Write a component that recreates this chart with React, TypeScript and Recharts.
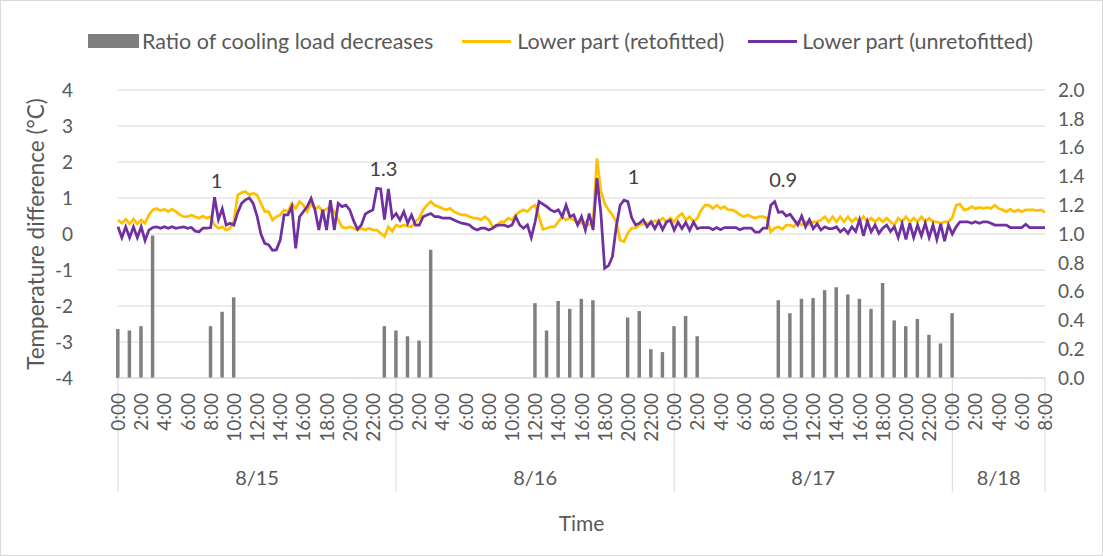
import React from "react";
import {
  ComposedChart,
  Bar,
  Line,
  XAxis,
  YAxis,
  CartesianGrid,
  Legend,
  ReferenceDot,
} from "recharts";

// temperature difference (°C), one value every 20 min, per day
const retro15 = [
  0.39, 0.3, 0.41, 0.28, 0.41, 0.28, 0.39, 0.3, 0.53, 0.67, 0.71, 0.65,
  0.69, 0.62, 0.69, 0.62, 0.53, 0.48, 0.48, 0.53, 0.48, 0.44, 0.5, 0.44,
  0.48, 0.25, 0.16, 0.2, 0.11, 0.16, 0.35, 1.08, 1.15, 1.18, 1.08, 1.13,
  1.08, 0.85, 0.62, 0.62, 0.39, 0.48, 0.53, 0.67, 0.62, 0.85, 0.71, 0.9,
  0.8, 0.62, 0.85, 0.7, 0.76, 0.62, 0.7, 0.76, 0.62, 0.4, 0.2, 0.16,
  0.2, 0.16, 0.11, 0.16, 0.11, 0.16, 0.11, 0.11, 0.02, -0.07, 0.2, 0.08,
];
const retro16 = [
  0.25, 0.2, 0.25, 0.22, 0.2, 0.34, 0.44, 0.67, 0.8, 0.9, 0.8, 0.76,
  0.71, 0.67, 0.71, 0.62, 0.57, 0.53, 0.53, 0.48, 0.44, 0.44, 0.39, 0.48,
  0.39, 0.2, 0.2, 0.34, 0.34, 0.44, 0.39, 0.53, 0.62, 0.67, 0.62, 0.74,
  0.8, 0.48, 0.13, 0.16, 0.2, 0.2, 0.34, 0.48, 0.39, 0.44, 0.39, 0.3,
  0.3, 0.34, 0.25, 0.3, 2.1, 1.2, 0.85, 0.67, 0.53, 0.34, -0.17, -0.21,
  0.02, 0.16, 0.16, 0.25, 0.28, 0.3, 0.31, 0.37, 0.34, 0.44, 0.34, 0.44,
];
const retro17 = [
  0.34, 0.48, 0.57, 0.39, 0.48, 0.34, 0.44, 0.67, 0.8, 0.8, 0.71, 0.8,
  0.71, 0.76, 0.67, 0.67, 0.62, 0.53, 0.48, 0.53, 0.48, 0.44, 0.48, 0.48,
  0.44, 0.06, 0.16, 0.2, 0.13, 0.25, 0.25, 0.2, 0.34, 0.25, 0.34, 0.25,
  0.34, 0.34, 0.39, 0.48, 0.34, 0.48, 0.34, 0.48, 0.34, 0.48, 0.34, 0.44,
  0.34, 0.48, 0.34, 0.44, 0.34, 0.44, 0.34, 0.44, 0.34, 0.25, 0.44, 0.34,
  0.48, 0.34, 0.44, 0.34, 0.48, 0.34, 0.44, 0.34, 0.34, 0.3, 0.34, 0.34,
];
const retro18 = [
  0.45, 0.8, 0.83, 0.67, 0.69, 0.76, 0.71, 0.74, 0.71, 0.74, 0.71, 0.8,
  0.71, 0.67, 0.62, 0.69, 0.62, 0.67, 0.62, 0.67, 0.67, 0.67, 0.65, 0.67,
  0.6,
];

const unretro15 = [
  0.2, -0.1, 0.2, -0.1, 0.2, -0.1, 0.2, -0.18, 0.11, 0.18, 0.2, 0.16,
  0.2, 0.16, 0.2, 0.16, 0.18, 0.2, 0.16, 0.18, 0.08, 0.06, 0.16, 0.16,
  0.18, 1.02, 0.4, 0.7, 0.25, 0.3, 0.25, 0.6, 0.85, 0.95, 1.0, 0.85,
  0.5, 0.0, -0.26, -0.3, -0.45, -0.44, -0.17, 0.53, 0.53, 0.76, -0.4, 0.48,
  0.62, 0.76, 0.99, 0.67, 0.11, 0.67, 0.11, 0.94, 0.11, 0.85, 0.76, 0.8,
  0.67, 0.37, 0.13, 0.25, 0.55, 0.62, 0.67, 1.27, 1.25, 0.4, 1.25, 0.45,
];
const unretro16 = [
  0.57, 0.39, 0.62, 0.3, 0.53, 0.25, 0.25, 0.48, 0.53, 0.57, 0.48, 0.48,
  0.44, 0.44, 0.44, 0.39, 0.34, 0.3, 0.28, 0.25, 0.16, 0.11, 0.16, 0.16,
  0.11, 0.16, 0.25, 0.25, 0.25, 0.2, 0.25, 0.48, 0.25, 0.16, 0.25, -0.1,
  0.34, 0.9, 0.83, 0.76, 0.67, 0.62, 0.67, 0.48, 0.8, 0.48, 0.53, 0.25,
  0.48, 0.11, 0.57, 0.11, 1.55, 0.6, -0.95, -0.88, -0.63, 0.2, 0.8, 0.94,
  0.9, 0.45, 0.25, 0.3, 0.4, 0.2, 0.34, 0.15, 0.35, 0.12, 0.33, 0.38,
];
const unretro17 = [
  0.11, 0.33, 0.15, 0.32, 0.1, 0.33, 0.15, 0.18, 0.18, 0.18, 0.12, 0.18,
  0.12, 0.18, 0.18, 0.18, 0.18, 0.12, 0.16, 0.16, 0.16, 0.05, 0.05, 0.16,
  0.16, 0.8, 0.9, 0.6, 0.62, 0.5, 0.55, 0.4, 0.25, 0.5, 0.2, 0.4,
  0.15, 0.28, 0.11, 0.2, 0.15, 0.15, 0.2, 0.06, 0.15, 0.02, 0.2, 0.07,
  0.4, -0.05, 0.35, 0.06, 0.25, 0.02, 0.16, 0.25, 0.07, 0.2, -0.1, 0.28,
  -0.15, 0.3, -0.1, 0.25, -0.05, 0.3, -0.1, 0.25, -0.15, 0.28, -0.2, 0.25,
];
const unretro18 = [
  0.0, 0.2, 0.34, 0.34, 0.34, 0.3, 0.34, 0.3, 0.34, 0.34, 0.3, 0.25,
  0.25, 0.25, 0.25, 0.18, 0.18, 0.18, 0.18, 0.27, 0.18, 0.18, 0.18, 0.18,
  0.18,
];

// ratio of cooling load decreases, hourly
const ratio15 = [
  0.34, 0.33, 0.36, 0.99, null, null, null, null, 0.36, 0.46, 0.56, null,
  null, null, null, null, null, null, null, null, null, null, null, 0.36,
];
const ratio16 = [
  0.33, 0.29, 0.26, 0.89, null, null, null, null, null, null, null, null,
  0.52, 0.33, 0.535, 0.48, 0.55, 0.54, null, null, 0.42, 0.465, 0.2, 0.18,
];
const ratio17 = [
  0.36, 0.43, 0.29, null, null, null, null, null, null, 0.54, 0.45, 0.55,
  0.555, 0.61, 0.63, 0.58, 0.55, 0.48, 0.66, 0.4, 0.36, 0.41, 0.3, 0.24,
];
const ratio18 = [0.45, null, null, null, null, null, null, null, null];

const dayLabels = ["8/15", "8/16", "8/17", "8/18"];
const dayStarts = [0, 24, 48, 72];
const lastHour = 80;

const hourTicks = [
  0, 2, 4, 6, 8, 10, 12, 14, 16, 18, 20, 22, 24, 26, 28, 30, 32, 34, 36, 38,
  40, 42, 44, 46, 48, 50, 52, 54, 56, 58, 60, 62, 64, 66, 68, 70, 72, 74, 76,
  78, 80,
];
const leftTicks = [-4, -3, -2, -1, 0, 1, 2, 3, 4];
const rightTicks = [0, 0.2, 0.4, 0.6, 0.8, 1, 1.2, 1.4, 1.6, 1.8, 2];

const noteText = ["1", "1.3", "1", "0.9"];
const noteHour = [8.5, 22.9, 44.5, 57.4];
const noteValue = [1.47, 1.8, 1.58, 1.5];

const retro = [...retro15, ...retro16, ...retro17, ...retro18];
const unretro = [...unretro15, ...unretro16, ...unretro17, ...unretro18];
const ratio = [...ratio15, ...ratio16, ...ratio17, ...ratio18];

const data = retro.map((r, i) => ({
  t: i / 3,
  retro: r,
  unretro: unretro[i],
  ratio: i % 3 === 0 ? ratio[i / 3] : null,
}));

const TEXT = "#595959";
const GRID = "#D9D9D9";
const FONT = 19;

function HourTick(props: any) {
  const { x, y, payload } = props;
  const v = payload.value as number;
  const base = y - 8;
  const dayIdx = dayStarts.findIndex(
    (s) => (s + Math.min(s + 24, lastHour)) / 2 === v
  );
  const isEdge = dayStarts.includes(v) || v === lastHour;
  return (
    <g>
      {isEdge && (
        <line x1={x} x2={x} y1={base} y2={base + 114} stroke={GRID} strokeWidth={1} />
      )}
      <text
        x={x + 7}
        y={base + 15}
        transform={`rotate(-90 ${x + 7} ${base + 15})`}
        textAnchor="end"
        fill={TEXT}
        fontSize={FONT}
      >
        {`${v % 24}:00`}
      </text>
      {dayIdx >= 0 && (
        <text x={x} y={base + 107} textAnchor="middle" fill={TEXT} fontSize={20}>
          {dayLabels[dayIdx]}
        </text>
      )}
    </g>
  );
}

function LeftTitle(props: any) {
  const vb = props.viewBox;
  const cx = vb.x + 44;
  const cy = vb.y + vb.height / 2;
  return (
    <text
      x={cx}
      y={cy}
      transform={`rotate(-90 ${cx} ${cy})`}
      textAnchor="middle"
      fill={TEXT}
      fontSize={22.5}
    >
      Temperature difference (°C)
    </text>
  );
}

function TimeTitle(props: any) {
  const vb = props.viewBox;
  return (
    <text x={vb.x + vb.width / 2} y={vb.y + 153} textAnchor="middle" fill={TEXT} fontSize={21}>
      Time
    </text>
  );
}

function LegendBox() {
  const item = { display: "flex", alignItems: "center" } as const;
  return (
    <div
      style={{
        display: "flex",
        alignItems: "center",
        paddingLeft: 88,
        fontSize: 21.5,
        color: TEXT,
        fontFamily: "Lato, sans-serif",
        lineHeight: "24px",
      }}
    >
      <div style={item}>
        <span style={{ width: 51, height: 14, background: "#7F7F7F", marginRight: 3 }} />
        <span>Ratio of cooling load decreases</span>
      </div>
      <div style={{ ...item, marginLeft: 29 }}>
        <span style={{ width: 49, height: 3, background: "#FFC000", marginRight: 6 }} />
        <span>Lower part (retofitted)</span>
      </div>
      <div style={{ ...item, marginLeft: 24 }}>
        <span style={{ width: 49, height: 3, background: "#7030A0", marginRight: 5 }} />
        <span>Lower part (unretofitted)</span>
      </div>
    </div>
  );
}

export default function App() {
  return (
    <div style={{ position: "absolute", left: 0, top: 0, width: 1103, height: 556, background: "#fff" }}>
      <ComposedChart
        width={1103}
        height={556}
        data={data}
        margin={{ top: 90, right: 0, bottom: 0, left: 0 }}
        style={{ fontFamily: "Lato, sans-serif" }}
      >
        <CartesianGrid xAxisId="hour" yAxisId="left" vertical={false} stroke={GRID} />
        <XAxis
          xAxisId="hour"
          dataKey="t"
          type="number"
          domain={[0, lastHour]}
          ticks={hourTicks}
          interval={0}
          height={178}
          tickLine={false}
          tickSize={6}
          tickMargin={2}
          axisLine={{ stroke: GRID }}
          tick={(p: any) => <HourTick {...p} />}
          label={(p: any) => <TimeTitle {...p} />}
        />
        <YAxis
          yAxisId="left"
          domain={[-4, 4]}
          ticks={leftTicks}
          width={118}
          axisLine={false}
          tickLine={false}
          tickSize={6}
          tickMargin={39}
          tick={{ fill: TEXT, fontSize: FONT }}
          label={(p: any) => <LeftTitle {...p} />}
        />
        <YAxis
          yAxisId="right"
          orientation="right"
          domain={[0, 2]}
          ticks={rightTicks}
          width={58}
          axisLine={false}
          tickLine={false}
          tickSize={6}
          tickMargin={7}
          tick={{ fill: TEXT, fontSize: FONT, textAnchor: "start" }}
          tickFormatter={(v: number) => v.toFixed(1)}
        />
        <Legend
          verticalAlign="middle"
          wrapperStyle={{ top: 29, left: 0, width: 1103 }}
          content={() => <LegendBox />}
        />
        <Bar
          xAxisId="hour"
          yAxisId="right"
          dataKey="ratio"
          fill="#7F7F7F"
          barSize={4}
          isAnimationActive={false}
        />
        <Line
          xAxisId="hour"
          yAxisId="left"
          type="linear"
          dataKey="retro"
          stroke="#FFC000"
          strokeWidth={2.75}
          dot={false}
          isAnimationActive={false}
        />
        <Line
          xAxisId="hour"
          yAxisId="left"
          type="linear"
          dataKey="unretro"
          stroke="#7030A0"
          strokeWidth={2.75}
          dot={false}
          isAnimationActive={false}
        />
        {noteText.map((txt, i) => (
          <ReferenceDot
            key={i}
            xAxisId="hour"
            yAxisId="left"
            x={noteHour[i]}
            y={noteValue[i]}
            r={0}
            fill="none"
            stroke="none"
            label={{ value: txt, position: "center", fill: "#404040", fontSize: 20 }}
          />
        ))}
      </ComposedChart>
      <div
        style={{
          position: "absolute",
          inset: 0,
          border: `1px solid ${GRID}`,
          pointerEvents: "none",
        }}
      />
    </div>
  );
}
